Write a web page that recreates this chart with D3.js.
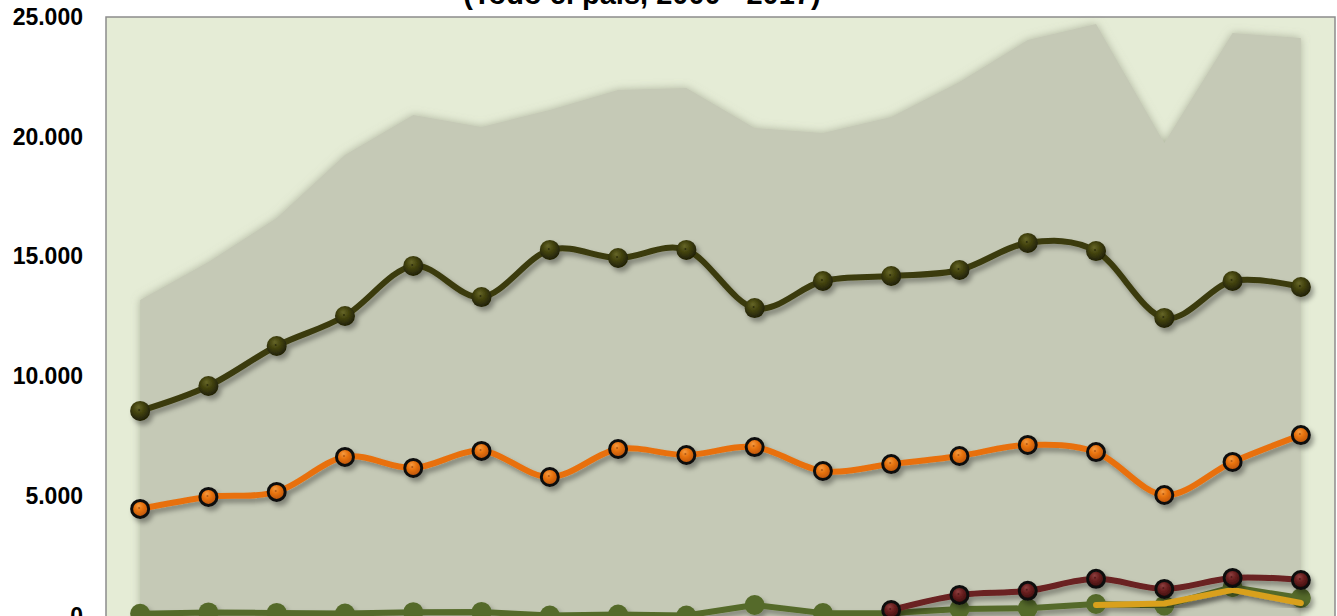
<!DOCTYPE html>
<html>
<head>
<meta charset="utf-8">
<script src="https://cdn.jsdelivr.net/npm/d3@7"></script>
<style>
  body { margin: 0; background: #fff; }
  svg { display: block; font-family: "Liberation Sans", Arial, sans-serif; }
</style>
</head>
<body>
<svg width="1337" height="616"></svg>
<script>
// years 2000 - 2017
var years = d3.range(2000, 2018);

// values
var total   = [13190, 14770, 16610, 19240, 20910, 20410, 21120, 21950, 22040, 20370, 20160, 20830, 22290, 24040, 24710, 19740, 24330, 24120];
var serieA  = [8560, 9600, 11270, 12520, 14610, 13310, 15280, 14940, 15280, 12850, 13980, 14190, 14440, 15570, 15230, 12440, 13980, 13730];
var serieB  = [4470, 4970, 5180, 6640, 6180, 6890, 5800, 6970, 6720, 7050, 6050, 6340, 6680, 7140, 6840, 5050, 6430, 7550];
var serieC  = [90, 150, 130, 100, 160, 170, 20, 60, 20, 460, 120, 130, 290, 320, 500, 440, 1200, 750];
var serieD  = [null, null, null, null, null, null, null, null, null, null, null, 250, 880, 1050, 1550, 1130, 1590, 1500];
var serieE  = [null, null, null, null, null, null, null, null, null, null, null, null, null, null, 460, 520, 1090, 540];

var yTicks = [0, 5000, 10000, 15000, 20000, 25000];
var titulo = "(Todo el país, 2000 - 2017)";

var svg = d3.select("svg"),
    plot = {left: 106, top: 17, right: 1335, bottom: 616};

var locale = d3.formatLocale({decimal: ",", thousands: ".", grouping: [3], currency: ["", ""]});
var fmt = locale.format(",");

var x = d3.scalePoint()
    .domain(years)
    .range([plot.left, plot.right])
    .padding(0.5);

var y = d3.scaleLinear()
    .domain([0, 25000])
    .range([616, 17]);

var defs = svg.append("defs");

var sh = defs.append("filter").attr("id", "shadow")
    .attr("x", "-10%").attr("y", "-10%").attr("width", "130%").attr("height", "130%");
sh.append("feDropShadow").attr("dx", 3).attr("dy", 4).attr("stdDeviation", 2.5)
    .attr("flood-color", "#000").attr("flood-opacity", 0.35);

var soft = defs.append("filter").attr("id", "soft")
    .attr("x", "-5%").attr("y", "-5%").attr("width", "110%").attr("height", "110%");
soft.append("feDropShadow").attr("dx", 0).attr("dy", 0).attr("stdDeviation", 4)
    .attr("flood-color", "#8a8f78").attr("flood-opacity", 0.6);

function grad(id, light, mid, dark) {
  var g = defs.append("radialGradient").attr("id", id)
      .attr("cx", "45%").attr("cy", "40%").attr("r", "60%").attr("fx", "40%").attr("fy", "30%");
  g.append("stop").attr("offset", "0%").attr("stop-color", light);
  g.append("stop").attr("offset", "45%").attr("stop-color", mid);
  g.append("stop").attr("offset", "100%").attr("stop-color", dark);
}
grad("gDark", "#666628", "#44440f", "#1f1f05");
grad("gOrange", "#f49a40", "#e8730f", "#b8520a");
grad("gRed", "#8e4040", "#6a2020", "#3a0c0c");

// plot area
svg.append("rect")
    .attr("x", plot.left).attr("y", plot.top)
    .attr("width", plot.right - plot.left).attr("height", 640)
    .attr("fill", "#e5ecd6").attr("stroke", "#8c8c8c").attr("stroke-width", 1.5);

// title (cut at the top)
svg.append("text")
    .attr("x", 642).attr("y", 4)
    .attr("text-anchor", "middle")
    .style("font-size", "29px").style("font-weight", "bold")
    .text(titulo);

// area of the total
var area = d3.area()
    .x(function(d, i) { return x(years[i]); })
    .y0(y(0) + 30)
    .y1(function(d) { return y(d); });

svg.append("path")
    .datum(total)
    .attr("d", area)
    .attr("fill", "#c5c9b6")
    .attr("filter", "url(#soft)");

// axis
var yAxis = svg.append("g")
    .attr("transform", "translate(" + plot.left + ",0)")
    .call(d3.axisLeft(y).tickValues(yTicks).tickSize(0).tickPadding(23).tickFormat(fmt));
yAxis.select(".domain").remove();
yAxis.selectAll("text")
    .attr("fill", "#000")
    .style("font-size", "23px").style("font-weight", "bold")
    .style("font-family", "'Liberation Sans', Arial, sans-serif");

function drawSeries(data, color, width, curve, marker) {
  var line = d3.line()
      .defined(function(d) { return d !== null; })
      .x(function(d, i) { return x(years[i]); })
      .y(function(d) { return y(d); })
      .curve(curve);

  var g = svg.append("g").attr("filter", "url(#shadow)");
  g.append("path")
      .datum(data)
      .attr("d", line)
      .attr("fill", "none")
      .attr("stroke", color)
      .attr("stroke-width", width)
      .attr("stroke-linecap", "round")
      .attr("stroke-linejoin", "round");

  if (!marker) return;
  var pts = data.map(function(d, i) { return {v: d, yr: years[i]}; })
      .filter(function(d) { return d.v !== null; });
  g.selectAll(null)
      .data(pts)
      .enter().append("circle")
      .attr("cx", function(d) { return x(d.yr); })
      .attr("cy", function(d) { return y(d.v); })
      .attr("r", marker.r)
      .attr("fill", marker.fill)
      .attr("stroke", marker.stroke || "none")
      .attr("stroke-width", marker.sw || 0);
  if (marker.dot) {
    g.selectAll(null)
        .data(pts)
        .enter().append("circle")
        .attr("cx", function(d) { return x(d.yr) - 1; })
        .attr("cy", function(d) { return y(d.v) - 1; })
        .attr("r", 1)
        .attr("fill", marker.dot)
        .attr("opacity", 0.6);
  }
}

var smooth = d3.curveCardinal.tension(0);

drawSeries(serieC, "#556b2a", 6, d3.curveLinear, {r: 10, fill: "#556b2a"});
drawSeries(serieD, "#6a2020", 6, smooth, {r: 8.5, fill: "url(#gRed)", stroke: "#111", sw: 3, dot: "#3a0c0c"});
drawSeries(serieE, "#d9a01b", 6, d3.curveLinear, null);
drawSeries(serieB, "#e8700e", 6, smooth, {r: 8.5, fill: "url(#gOrange)", stroke: "#111", sw: 3, dot: "#8a3a05"});
drawSeries(serieA, "#3a3a0c", 6, smooth, {r: 10, fill: "url(#gDark)", dot: "#151502"});
</script>
</body>
</html>
